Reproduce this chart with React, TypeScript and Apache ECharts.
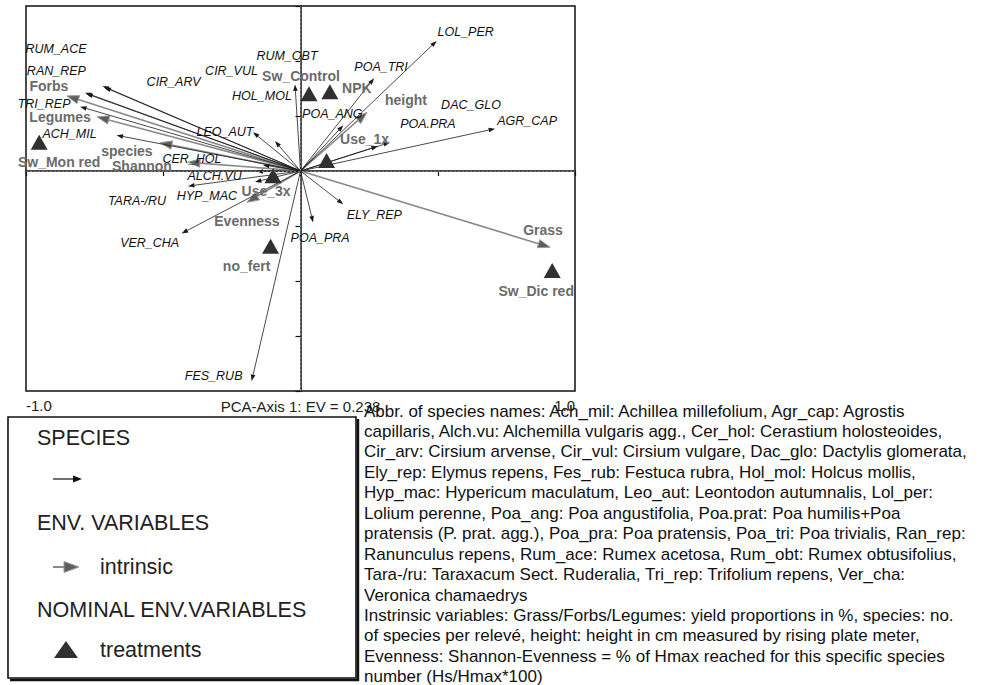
import React, { useEffect, useRef } from "react";
import * as echarts from "echarts";

// ---------- Data ----------
const speciesNames = [
  "RUM_ACE", "RAN_REP", "CIR_ARV", "CIR_VUL", "TRI_REP", "ACH_MIL", "LEO_AUT", "HOL_MOL",
  "RUM_OBT", "POA_ANG", "POA_TRI", "LOL_PER", "DAC_GLO", "POA.PRA", "AGR_CAP", "CER_HOL",
  "ALCH.VU", "HYP_MAC", "TARA-/RU", "VER_CHA", "FES_RUB", "POA_PRA", "ELY_REP",
];
const speciesX = [
  -0.785, -0.780, -0.721, -0.714, -0.803, -0.670, -0.173, -0.093,
  -0.020, 0.156, 0.268, 0.496, 0.326, 0.282, 0.709, -0.137,
  -0.160, -0.166, -0.410, -0.433, -0.178, 0.046, 0.156,
];
const speciesY = [
  0.285, 0.281, 0.309, 0.304, 0.234, 0.130, 0.141, 0.109,
  0.315, 0.166, 0.337, 0.473, 0.104, 0.090, 0.154, 0.022,
  -0.002, -0.040, -0.055, -0.227, -0.764, -0.187, -0.121,
];

const intrinsicNames = ["Forbs", "Legumes", "species", "Shannon", "Evenness", "height", "Grass"];
const intrinsicX = [-0.851, -0.741, -0.512, -0.410, -0.195, 0.242, 0.909];
const intrinsicY = [0.273, 0.197, 0.103, 0.032, -0.114, 0.213, -0.277];

const treatmentNames = ["Sw_Control", "NPK", "Use_1x", "Use_3x", "Sw_Mon red", "no_fert", "Sw_Dic red"];
const treatmentX = [0.031, 0.107, 0.095, -0.100, -0.952, -0.109, 0.917];
const treatmentY = [0.279, 0.286, 0.036, -0.019, 0.103, -0.275, -0.364];

const xAxisTitle = "PCA-Axis 1: EV = 0.238";
const xTickLabels: Record<string, string> = { "-1": "-1.0", "1": "1.0" };

const legendTitles = ["SPECIES", "ENV. VARIABLES", "NOMINAL ENV.VARIABLES"];
const legendItems = ["intrinsic", "treatments"];

const noteLines = [
  "Abbr. of species names: Ach_mil: Achillea millefolium, Agr_cap: Agrostis",
  "capillaris, Alch.vu: Alchemilla vulgaris agg., Cer_hol: Cerastium holosteoides,",
  "Cir_arv: Cirsium arvense, Cir_vul: Cirsium vulgare, Dac_glo: Dactylis glomerata,",
  "Ely_rep: Elymus repens, Fes_rub: Festuca rubra, Hol_mol: Holcus mollis,",
  "Hyp_mac: Hypericum maculatum, Leo_aut: Leontodon autumnalis, Lol_per:",
  "Lolium perenne, Poa_ang: Poa angustifolia, Poa.prat: Poa humilis+Poa",
  "pratensis (P. prat. agg.), Poa_pra: Poa pratensis, Poa_tri: Poa trivialis, Ran_rep:",
  "Ranunculus repens, Rum_ace: Rumex acetosa, Rum_obt: Rumex obtusifolius,",
  "Tara-/ru: Taraxacum Sect. Ruderalia, Tri_rep: Trifolium repens, Ver_cha:",
  "Veronica chamaedrys",
  "Instrinsic variables: Grass/Forbs/Legumes: yield proportions in %, species: no.",
  "of species per relevé, height: height in cm measured by rising plate meter,",
  "Evenness: Shannon-Evenness = % of Hmax reached for this specific species",
  "number (Hs/Hmax*100)",
];

// ---------- Label placement (pixel offsets from the mark) ----------
const speciesLabelOffsets: number[][] = [
  [-29, -44], [-30, -23], [71, -4], [127, -16], [-36, -3], [-47, -1], [-28, 0], [-13, -45],
  [-8, -28], [-11, -11], [7, -11], [29, -9], [81, -37], [50, -22], [32, -8], [-71, -6],
  [-42, 4], [-48, 14], [-51, 15], [-32, 10], [-38, -5], [7, 16], [31, 11],
];
const intrinsicLabelOffsets: number[][] = [
  [-18, -10], [-37, 0], [-33, 8], [-46, 4], [0, 19], [39, -12], [-7, -17],
];
const treatmentLabelOffsets: number[][] = [
  [-8, -18], [27, -4], [38, -22], [-7, 15], [20, 19], [-24, 19], [-16, 20],
];

const FONT = "'Liberation Sans', Arial, Helvetica, sans-serif";
const GRAY_LABEL = "#6b6b6b";
const DARK = "#1a1a1a";

function arrowGeom(o: number[], p: number[], len: number, half: number) {
  const dx = p[0] - o[0];
  const dy = p[1] - o[1];
  const d = Math.hypot(dx, dy) || 1;
  const ux = dx / d;
  const uy = dy / d;
  const bx = p[0] - ux * len;
  const by = p[1] - uy * len;
  return {
    base: [bx, by],
    points: [
      [p[0], p[1]],
      [bx - uy * half, by + ux * half],
      [bx + uy * half, by - ux * half],
    ],
  };
}

export default function App() {
  const ref = useRef<HTMLDivElement>(null);

  useEffect(() => {
    if (!ref.current) return;
    const chart = echarts.init(ref.current, null, { renderer: "svg" });

    const speciesRender = (params: any, api: any) => {
      const i = params.dataIndex;
      const o = api.coord([0, 0]);
      const p = api.coord([api.value(0), api.value(1)]);
      const g = arrowGeom(o, p, 6.5, 2.3);
      const off = speciesLabelOffsets[i];
      return {
        type: "group",
        children: [
          { type: "line", shape: { x1: o[0], y1: o[1], x2: g.base[0], y2: g.base[1] }, style: { stroke: DARK, lineWidth: 0.8, fill: null } },
          { type: "polygon", shape: { points: g.points }, style: { fill: DARK } },
          {
            type: "text", x: p[0] + off[0], y: p[1] + off[1],
            style: { text: speciesNames[i], font: `italic 12.5px ${FONT}`, fill: "#111", align: "center", verticalAlign: "middle" },
          },
        ],
      };
    };

    const intrinsicRender = (params: any, api: any) => {
      const i = params.dataIndex;
      const o = api.coord([0, 0]);
      const p = api.coord([api.value(0), api.value(1)]);
      const g = arrowGeom(o, p, 12, 4.2);
      const off = intrinsicLabelOffsets[i];
      return {
        type: "group",
        children: [
          { type: "line", shape: { x1: o[0], y1: o[1], x2: g.base[0], y2: g.base[1] }, style: { stroke: "#8a8a8a", lineWidth: 1.6, fill: null } },
          { type: "polygon", shape: { points: g.points }, style: { fill: "#5e5e5e", stroke: "#9a9a9a", lineWidth: 1 } },
          {
            type: "text", x: p[0] + off[0], y: p[1] + off[1],
            style: { text: intrinsicNames[i], font: `bold 14px ${FONT}`, fill: GRAY_LABEL, align: "center", verticalAlign: "middle" },
          },
        ],
      };
    };

    const treatmentRender = (params: any, api: any) => {
      const i = params.dataIndex;
      const p = api.coord([api.value(0), api.value(1)]);
      const off = treatmentLabelOffsets[i];
      return {
        type: "group",
        children: [
          {
            type: "polygon",
            shape: { points: [[p[0], p[1] - 8], [p[0] + 8.5, p[1] + 7], [p[0] - 8.5, p[1] + 7]] },
            style: { fill: "#303030" },
          },
          {
            type: "text", x: p[0] + off[0], y: p[1] + off[1],
            style: { text: treatmentNames[i], font: `bold 14px ${FONT}`, fill: GRAY_LABEL, align: "center", verticalAlign: "middle" },
          },
        ],
      };
    };

    const legendText = (text: string, x: number, y: number) => ({
      type: "text", x, y, z: 10,
      style: { text, font: `21.5px ${FONT}`, fill: "#222", align: "left", verticalAlign: "middle" },
    });

    const graphic: any[] = [
      // x-axis title, centred under the zero tick
      {
        type: "text", x: 300.5, y: 406, z: 5,
        style: { text: xAxisTitle, font: `15px ${FONT}`, fill: "#222", align: "center", verticalAlign: "middle" },
      },
      // legend box with shadow
      { type: "rect", z: 10, shape: { x: 8, y: 417, width: 348, height: 261 }, style: { fill: "#fff", stroke: "#111", lineWidth: 1.6 } },
      { type: "polyline", z: 10, shape: { points: [[10, 680], [358, 680], [358, 419]] }, style: { fill: null, stroke: "#111", lineWidth: 2.4 } },
      legendText(legendTitles[0], 37, 438),
      { type: "line", z: 10, shape: { x1: 53, y1: 479, x2: 74, y2: 479 }, style: { stroke: "#111", lineWidth: 1.2 } },
      { type: "polygon", z: 10, shape: { points: [[82, 479], [73, 475.5], [73, 482.5]] }, style: { fill: "#111" } },
      legendText(legendTitles[1], 37, 523),
      { type: "line", z: 10, shape: { x1: 53, y1: 567, x2: 66, y2: 567 }, style: { stroke: "#8a8a8a", lineWidth: 2 } },
      { type: "polygon", z: 10, shape: { points: [[79, 567], [64, 561.5], [64, 572.5]] }, style: { fill: "#5e5e5e", stroke: "#9a9a9a", lineWidth: 1 } },
      legendText(legendItems[0], 100, 567),
      legendText(legendTitles[2], 37, 610),
      { type: "polygon", z: 10, shape: { points: [[66, 641], [78, 658], [54, 658]] }, style: { fill: "#303030" } },
      legendText(legendItems[1], 100, 650),
    ];
    noteLines.forEach((line, k) => {
      graphic.push({
        type: "text", x: 364, y: 411 + k * 20.45, z: 10,
        style: { text: line, font: `17px ${FONT}`, fill: "#111", align: "left", verticalAlign: "middle" },
      });
    });

    const option: any = {
      animation: false,
      backgroundColor: "#ffffff",
      grid: {
        left: 26, top: 6, width: 549, height: 385,
        show: true, borderColor: "#111", borderWidth: 1.5, backgroundColor: "transparent",
      },
      xAxis: {
        type: "value", min: -1, max: 1, interval: 0.5,
        axisLine: { show: true, lineStyle: { color: "#111", width: 1.5 } },
        axisTick: { show: true, inside: false, length: 5, lineStyle: { color: "#111", width: 1.2 } },
        axisLabel: {
          show: true, margin: 7, fontFamily: FONT, fontSize: 15, color: "#222",
          formatter: (v: number) => xTickLabels[String(Math.round(v * 10) / 10)] || "",
          alignMinLabel: "left", alignMaxLabel: "right",
        },
        splitLine: { show: false },
      },
      yAxis: {
        type: "value", min: -0.8, max: 0.6, interval: 0.2,
        axisLine: { show: true, lineStyle: { color: "#111", width: 1.5 } },
        axisTick: { show: true, inside: false, length: 5, lineStyle: { color: "#111", width: 1.2 } },
        axisLabel: { show: false },
        splitLine: { show: false },
      },
      series: [
        {
          type: "custom", name: "species", coordinateSystem: "cartesian2d",
          renderItem: speciesRender, encode: { x: 0, y: 1 }, clip: false, z: 3,
          data: speciesX.map((x, i) => [x, speciesY[i]]),
          markLine: {
            silent: true, symbol: ["none", "none"], label: { show: false },
            lineStyle: { type: [2, 2], color: "#8a8a8a", width: 0.8 },
            data: [{ xAxis: 0 }, { yAxis: 0 }],
          },
        },
        {
          type: "custom", name: "intrinsic", coordinateSystem: "cartesian2d",
          renderItem: intrinsicRender, encode: { x: 0, y: 1 }, clip: false, z: 2,
          data: intrinsicX.map((x, i) => [x, intrinsicY[i]]),
        },
        {
          type: "custom", name: "treatments", coordinateSystem: "cartesian2d",
          renderItem: treatmentRender, encode: { x: 0, y: 1 }, clip: false, z: 4,
          data: treatmentX.map((x, i) => [x, treatmentY[i]]),
        },
      ],
      graphic,
    };

    chart.setOption(option);
    return () => chart.dispose();
  }, []);

  return (
    <div
      ref={ref}
      style={{ position: "absolute", left: 0, top: 0, width: 989, height: 685, background: "#fff" }}
    />
  );
}
